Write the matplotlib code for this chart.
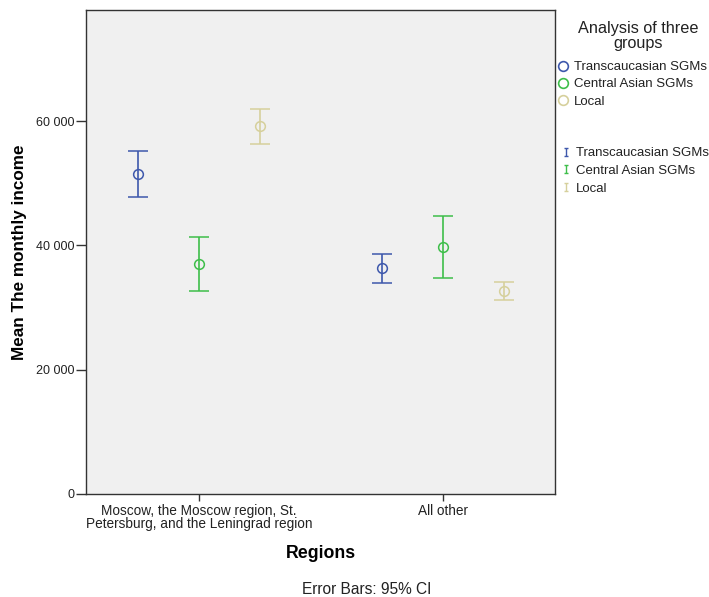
import matplotlib
matplotlib.use("Agg")
import matplotlib.pyplot as plt
from matplotlib.lines import Line2D
from matplotlib.path import Path
import numpy as np

plt.rcParams['font.family'] = ['Liberation Sans', 'DejaVu Sans']

categories = ["Moscow, the Moscow region, St.\nPetersburg, and the Leningrad region", "All other"]
groups = ["Transcaucasian SGMs", "Central Asian SGMs", "Local"]
means = {
    "Transcaucasian SGMs": [51500, 36300],
    "Central Asian SGMs": [37000, 39700],
    "Local": [59150, 32650],
}
lower = {
    "Transcaucasian SGMs": [47800, 33900],
    "Central Asian SGMs": [32650, 34700],
    "Local": [56350, 31150],
}
upper = {
    "Transcaucasian SGMs": [55200, 38700],
    "Central Asian SGMs": [41400, 44700],
    "Local": [62000, 34050],
}
yticks = [0, 20000, 40000, 60000]
ytick_labels = ["0", "20 000", "40 000", "60 000"]
colors = {"Transcaucasian SGMs": "#3e58ac", "Central Asian SGMs": "#3ebe4a", "Local": "#d6d09c"}

fig = plt.figure(figsize=(7.09, 5.97), dpi=100)
ax = fig.add_axes([86/709, 1 - 494/597, (555-86)/709, (494-10)/597])
ax.set_facecolor("#f0f0f0")

offsets = [-0.25, 0.0, 0.25]
x = np.arange(len(categories))
for g, off in zip(groups, offsets):
    m = np.array(means[g]); lo = np.array(lower[g]); hi = np.array(upper[g])
    ax.errorbar(x + off, m, yerr=[m - lo, hi - m], fmt='o', mfc='none', mec=colors[g],
                ecolor=colors[g], ms=7, mew=1.1, elinewidth=1.2, capsize=7, capthick=1.2)

ax.set_xlim(-0.463, 1.46)
ax.set_ylim(0, 77900)
ax.set_yticks(yticks)
ax.set_yticklabels(ytick_labels)
ax.set_xticks(x)
ax.set_xticklabels(categories, fontsize=9.8, linespacing=0.95)
ax.tick_params(axis='y', labelsize=9, length=7, width=1, pad=1, colors='#333333', labelcolor='#222222')
ax.tick_params(axis='x', length=5, width=1, pad=2, colors='#333333', labelcolor='#222222')
for s in ax.spines.values():
    s.set_color('#333333'); s.set_linewidth(1)

ax.set_ylabel("Mean The monthly income", fontsize=12.3, fontweight='bold', labelpad=7)
ax.set_xlabel("Regions", fontsize=12.8, fontweight='bold', labelpad=10)

fig.text(367/709, 1 - 589/597, "Error Bars: 95% CI", ha='center', va='center', fontsize=11.2, color='#222222')

fig.text(638/709, 1 - 36/597, "Analysis of three\ngroups", ha='center', va='center', fontsize=11.7, color='#222222', linespacing=0.98)

ibar = Path([(-0.5, -1), (0.5, -1), (0, -1), (0, 1), (-0.5, 1), (0.5, 1)],
            [Path.MOVETO, Path.LINETO, Path.MOVETO, Path.LINETO, Path.MOVETO, Path.LINETO])

h1 = [Line2D([], [], ls='none', marker='o', mfc='none', mec=colors[g], ms=7, mew=1.2) for g in groups]
leg1 = fig.legend(h1, groups, loc='upper left', bbox_to_anchor=(557.7/709, 1 - 61/597), frameon=False,
                  fontsize=9.5, handlelength=0.8, handletextpad=0.4, labelspacing=0.38, borderaxespad=0, borderpad=0)
h2 = [Line2D([], [], ls='none', marker=ibar, mfc='none', mec=colors[g], ms=5.5, mew=1.0) for g in groups]
leg2 = fig.legend(h2, groups, loc='upper left', bbox_to_anchor=(560.4/709, 1 - 147/597), frameon=False,
                  fontsize=9.5, handlelength=0.8, handletextpad=0.4, labelspacing=0.42, borderaxespad=0, borderpad=0)
for leg in (leg1, leg2):
    for t in leg.get_texts():
        t.set_color('#222222')

fig.savefig("out.png", dpi=100, facecolor='white')
